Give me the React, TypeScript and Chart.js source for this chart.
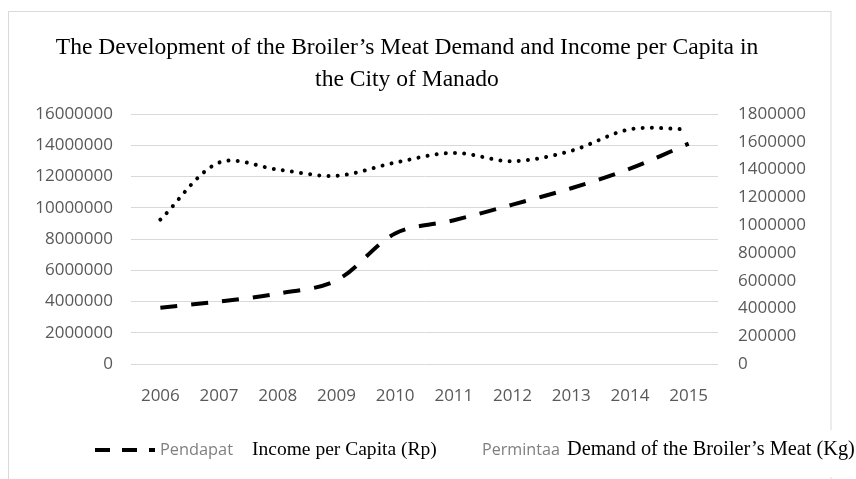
import { useEffect, useRef } from "react";
import { Chart, registerables } from "chart.js";

Chart.register(...registerables);

const years = ["2006", "2007", "2008", "2009", "2010", "2011", "2012", "2013", "2014", "2015"];
const incomePerCapita = [3600000, 4000000, 4500000, 5350000, 8350000, 9200000, 10200000, 11250000, 12500000, 14100000];
const meatDemand = [1040000, 1450000, 1400000, 1355000, 1450000, 1520000, 1460000, 1535000, 1690000, 1690000];

const leftAxisMax = 16000000;
const leftAxisStep = 2000000;
const rightAxisMax = 1800000;
const rightAxisStep = 200000;

const titleLines = [
  "The Development of the Broiler\u2019s Meat Demand and Income per Capita in",
  "the City of Manado",
];
const legendShort = ["Pendapat", "Permintaa"];
const legendLong = ["Income per Capita (Rp)", "Demand of the Broiler\u2019s Meat (Kg)"];

const SERIF = "'Liberation Serif', 'Times New Roman', serif";
const SANS = "'Open Sans', 'Noto Sans', sans-serif";
const TICK_COLOR = "#595959";

function fitSize(ctx: CanvasRenderingContext2D, text: string, family: string, width: number) {
  ctx.font = `100px ${family}`;
  const w = ctx.measureText(text).width;
  return (100 * width) / w;
}

const decorPlugin = {
  id: "decor",
  beforeDraw(chart: any) {
    const ctx: CanvasRenderingContext2D = chart.ctx;
    ctx.save();
    ctx.fillStyle = "#ffffff";
    ctx.fillRect(0, 0, chart.width, chart.height);
    ctx.strokeStyle = "#d9d9d9";
    ctx.lineWidth = 1;
    ctx.strokeRect(8.5, 11.5, 822.5, 520);
    ctx.restore();
  },
  afterDraw(chart: any) {
    const ctx: CanvasRenderingContext2D = chart.ctx;
    ctx.save();
    // title
    const tSize = fitSize(ctx, titleLines[0], SERIF, 703);
    ctx.font = `${tSize}px ${SERIF}`;
    ctx.fillStyle = "#000000";
    ctx.textAlign = "center";
    ctx.textBaseline = "middle";
    ctx.fillText(titleLines[0], 407, 48);
    ctx.fillText(titleLines[1], 407, 80);

    // legend
    const ly = 450;
    ctx.strokeStyle = "#000000";
    ctx.lineWidth = 4;
    ctx.setLineDash([15, 12]);
    ctx.beginPath();
    ctx.moveTo(95, ly);
    ctx.lineTo(155, ly);
    ctx.stroke();
    ctx.setLineDash([]);

    ctx.textAlign = "left";
    ctx.fillStyle = "#7f7f7f";
    let s = fitSize(ctx, legendShort[0], SANS, 73);
    ctx.font = `${s}px ${SANS}`;
    ctx.fillText(legendShort[0], 160, ly);
    s = fitSize(ctx, legendShort[1], SANS, 78);
    ctx.font = `${s}px ${SANS}`;
    ctx.fillText(legendShort[1], 482, ly);

    ctx.fillStyle = "#000000";
    s = fitSize(ctx, legendLong[0], SERIF, 185);
    ctx.font = `${s}px ${SERIF}`;
    ctx.fillText(legendLong[0], 252, ly);

    ctx.fillStyle = "#ffffff";
    ctx.fillRect(565, 430, 291, 47);
    ctx.fillStyle = "#000000";
    s = fitSize(ctx, legendLong[1], SERIF, 288);
    ctx.font = `${s}px ${SERIF}`;
    ctx.fillText(legendLong[1], 567, ly);
    ctx.restore();
  },
};

export default function App() {
  const ref = useRef<HTMLCanvasElement | null>(null);

  useEffect(() => {
    if (!ref.current) return;
    const tickFont = { family: SANS, size: 17 };
    const chart = new Chart(ref.current, {
      type: "line",
      data: {
        labels: years,
        datasets: [
          {
            label: legendLong[0],
            data: incomePerCapita,
            yAxisID: "y",
            borderColor: "#000000",
            borderWidth: 4,
            borderDash: [17, 14],
            borderCapStyle: "butt",
            pointRadius: 0,
            tension: 0.33,
            fill: false,
          },
          {
            label: legendLong[1],
            data: meatDemand,
            yAxisID: "y1",
            borderColor: "#000000",
            borderWidth: 4,
            borderDash: [0.01, 9.2],
            borderCapStyle: "round",
            pointRadius: 0,
            tension: 0.33,
            fill: false,
          },
        ],
      },
      options: {
        responsive: false,
        animation: false,
        layout: { padding: { left: 0, right: 0, top: 114, bottom: 55 } },
        plugins: {
          legend: { display: false },
          title: { display: false },
          tooltip: { enabled: false },
        },
        scales: {
          x: {
            type: "category",
            offset: true,
            grid: { display: false, offset: true },
            border: { display: false },
            ticks: { font: tickFont, color: TICK_COLOR, padding: 14, maxRotation: 0 },
            afterFit: (scale: any) => {
              scale.height = 60;
            },
          },
          y: {
            position: "left",
            min: 0,
            max: leftAxisMax,
            grid: { color: "#d9d9d9", lineWidth: 1, drawTicks: false },
            border: { display: false },
            ticks: {
              stepSize: leftAxisStep,
              font: tickFont,
              color: TICK_COLOR,
              padding: 18,
              callback: (v: any) => String(v),
            },
            afterFit: (scale: any) => {
              scale.width = 131;
            },
          },
          y1: {
            position: "right",
            min: 0,
            max: rightAxisMax,
            grid: { display: false, drawTicks: false },
            border: { display: false },
            ticks: {
              stepSize: rightAxisStep,
              font: tickFont,
              color: TICK_COLOR,
              padding: 20,
              callback: (v: any) => String(v),
            },
            afterFit: (scale: any) => {
              scale.width = 138;
            },
          },
        },
      },
      plugins: [decorPlugin],
    } as any);
    return () => chart.destroy();
  }, []);

  return (
    <div style={{ position: "fixed", left: 0, top: 0, width: 856, height: 479, background: "#fff" }}>
      <canvas ref={ref} width={856} height={479} style={{ display: "block" }} />
    </div>
  );
}
